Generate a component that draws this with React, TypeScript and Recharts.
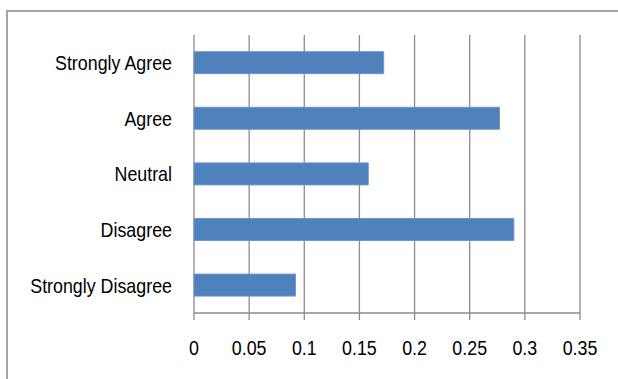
import React from 'react';
import { BarChart, Bar, XAxis, YAxis, CartesianGrid } from 'recharts';

const categories = ['Strongly Agree', 'Agree', 'Neutral', 'Disagree', 'Strongly Disagree'];
const values = [0.172, 0.277, 0.158, 0.29, 0.092];
const xTicks = [0, 0.05, 0.1, 0.15, 0.2, 0.25, 0.3, 0.35];
const frameTicks = [0, 1, 2, 3, 4, 5];

const data = categories.map((name, i) => ({ name, value: values[i] }));

const FONT = '"Liberation Sans", Arial, sans-serif';
const GRID = '#8c8c8c';
const SX = 0.85;

function CatTick(props: any) {
  const { x, y, payload } = props;
  return (
    <text
      x={x}
      y={y}
      dy="0.355em"
      textAnchor="end"
      fill="#000"
      fontSize={21}
      fontFamily={FONT}
      transform={`translate(${x} ${y}) scale(${SX} 1) translate(${-x} ${-y})`}
    >
      {payload.value}
    </text>
  );
}

function NumTick(props: any) {
  const { x, y, payload } = props;
  return (
    <text
      x={x}
      y={y}
      dy="0.71em"
      textAnchor="middle"
      fill="#000"
      fontSize={21}
      fontFamily={FONT}
      transform={`translate(${x} ${y}) scale(${SX} 1) translate(${-x} ${-y})`}
    >
      {String(payload.value)}
    </text>
  );
}

export default function App() {
  return (
    <div style={{ position: 'absolute', left: 0, top: 0, width: 618, height: 379, overflow: 'hidden', background: '#fff' }}>
      <div
        style={{
          position: 'absolute',
          left: 6,
          top: 10,
          width: 700,
          height: 500,
          border: '2px solid #a6a6a6',
          boxSizing: 'border-box',
        }}
      />
      <div style={{ position: 'absolute', left: 0, top: 0 }}>
        <BarChart
          width={618}
          height={379}
          data={data}
          layout="vertical"
          barCategoryGap="30%"
          margin={{ top: 35, right: 38, bottom: 26, left: 0 }}
        >
          <CartesianGrid vertical horizontal={false} stroke={GRID} strokeWidth={1.3} yAxisId="cat" />
          <YAxis
            yAxisId="frame"
            type="number"
            domain={[0, 5]}
            ticks={frameTicks}
            width={0}
            tick={false}
            tickSize={6}
            axisLine={{ stroke: GRID, strokeWidth: 1.3 }}
            tickLine={{ stroke: GRID, strokeWidth: 1.3 }}
          />
          <YAxis
            yAxisId="cat"
            type="category"
            dataKey="name"
            width={194}
            axisLine={false}
            tickLine={false}
            tickSize={6}
            tickMargin={16}
            tick={<CatTick />}
          />
          <XAxis
            type="number"
            domain={[0, 0.35]}
            ticks={xTicks}
            height={40}
            tickSize={7}
            tickMargin={20}
            axisLine={{ stroke: GRID, strokeWidth: 1.3 }}
            tickLine={{ stroke: GRID, strokeWidth: 1.3 }}
            tick={<NumTick />}
            interval={0}
          />
          <Bar dataKey="value" yAxisId="cat" fill="#4f81bd" stroke="#6f96c8" strokeWidth={1} isAnimationActive={false} />
        </BarChart>
      </div>
    </div>
  );
}
